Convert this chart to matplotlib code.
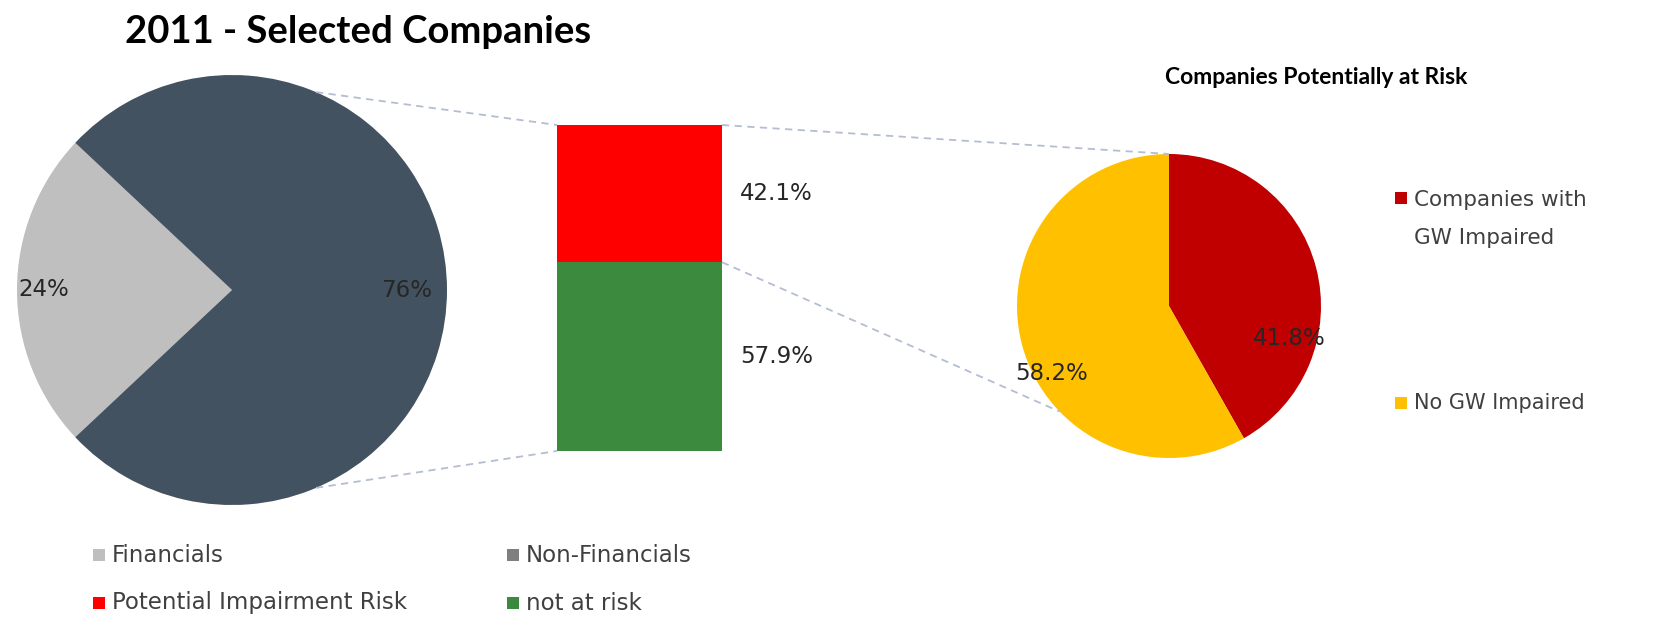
import numpy as np
import matplotlib.pyplot as plt
from matplotlib.patches import Rectangle

W, H = 1664, 619

# 2011 split of the selected companies
sector_labels = ["Financials", "Non-Financials"]
sector_share = [24, 76]

# risk breakdown shown in the stacked bar
risk_labels = ["Potential Impairment Risk", "not at risk"]
risk_share = [42.1, 57.9]

# companies potentially at risk
gw_labels = ["Companies with\nGW Impaired", "No GW Impaired"]
gw_share = [41.8, 58.2]

sector_colors = ["#bfbfbf", "#435260"]
sector_key_colors = ["#bfbfbf", "#7f7f7f"]
risk_colors = ["#ff0000", "#3b8a3e"]
gw_colors = ["#c00000", "#ffc000"]
line_col = "#b4bdd2"
txt_col = "#262626"
key_col = "#404040"

fig = plt.figure(figsize=(W / 100, H / 100), dpi=100)
ax = fig.add_axes([0, 0, 1, 1])


def py(y):
    # pixel row (from top) -> data y
    return H - y


def on_circle(c, r, ang):
    a = np.radians(ang)
    return c[0] + r * np.cos(a), c[1] + r * np.sin(a)


# left pie
c1 = (232, py(290))
r1 = 215
start1 = 180 - sector_share[0] * 3.6 / 2
ax.pie(sector_share, colors=sector_colors, center=c1, radius=r1,
       startangle=start1, wedgeprops=dict(linewidth=0))
cum = np.cumsum([0] + sector_share[:-1])
for v, b, f in zip(sector_share, cum, [0.875, 0.81]):
    mid = start1 + (b + v / 2) * 3.6
    x, y = on_circle(c1, r1 * f, mid)
    ax.text(x, y, "%d%%" % v, ha="center", va="center", fontsize=16.5, color=txt_col)

# stacked bar
bx0, bx1 = 557, 722
btop, bbot = 125, 451
scale = (bbot - btop) / 100.0
bottom = py(bbot)
ax.bar((bx0 + bx1) / 2, risk_share[1] * scale, width=bx1 - bx0, bottom=bottom,
       color=risk_colors[1], linewidth=0)
ax.bar((bx0 + bx1) / 2, risk_share[0] * scale, width=bx1 - bx0,
       bottom=bottom + risk_share[1] * scale, color=risk_colors[0], linewidth=0)
ax.text(bx1 + 18, bottom + risk_share[1] * scale / 2, "%.1f%%" % risk_share[1],
        ha="left", va="center", fontsize=16.5, color=txt_col)
ax.text(bx1 + 18, bottom + risk_share[1] * scale + risk_share[0] * scale / 2,
        "%.1f%%" % risk_share[0], ha="left", va="center", fontsize=16.5, color=txt_col)

# right pie
c2 = (1169, py(306))
r2 = 152
ax.pie(gw_share, colors=gw_colors, center=c2, radius=r2, startangle=90,
       counterclock=False, wedgeprops=dict(linewidth=0))
for v, ang, f in zip(gw_share, [-15, -150], [0.82, 0.89]):
    x, y = on_circle(c2, r2 * f, ang)
    ax.text(x, y, "%.1f%%" % v, ha="center", va="center", fontsize=16.5, color=txt_col)

# connector lines
dash = dict(color=line_col, lw=1.3, ls=(0, (4, 3)))
p = on_circle(c1, r1, 67)
ax.plot([p[0], bx0], [p[1], py(btop)], **dash)
p = on_circle(c1, r1, -67)
ax.plot([p[0], bx0], [p[1], py(bbot)], **dash)
p = on_circle(c2, r2, 90)
ax.plot([bx1, p[0]], [py(btop), p[1]], **dash)
p = on_circle(c2, r2, 224)
ax.plot([bx1, p[0]], [bottom + risk_share[1] * scale, p[1]], **dash)

# titles
ax.text(358, py(32), "2011 - Selected Companies", ha="center", va="center",
        fontsize=27.5, fontweight="bold", family="Lato", color="#000000")
ax.text(1316, py(77), "Companies Potentially at Risk", ha="center", va="center",
        fontsize=16.5, fontweight="bold", family="Lato", color="#000000")

# keys under the left pie
keys = [(sector_labels[0], sector_key_colors[0], 93, 555),
        (sector_labels[1], sector_key_colors[1], 507, 555),
        (risk_labels[0], risk_colors[0], 93, 603),
        (risk_labels[1], risk_colors[1], 507, 603)]
for lab, col, x, y in keys:
    ax.add_patch(Rectangle((x, py(y) - 6), 12, 12, color=col, lw=0))
    ax.text(x + 19, py(y), lab, ha="left", va="center", fontsize=16.5, color=key_col)

# keys for the right pie
ax.add_patch(Rectangle((1395, py(198) - 6), 12, 12, color=gw_colors[0], lw=0))
ax.text(1414, py(198) + 8, gw_labels[0], ha="left", va="top", fontsize=15.5,
        color=key_col, linespacing=2.15)
ax.add_patch(Rectangle((1395, py(403) - 6), 12, 12, color=gw_colors[1], lw=0))
ax.text(1414, py(403), gw_labels[1], ha="left", va="center", fontsize=15, color=key_col)

ax.set_xlim(0, W)
ax.set_ylim(0, H)
ax.set_aspect("equal")
ax.axis("off")

fig.savefig("out.png", dpi=100, facecolor="white")
